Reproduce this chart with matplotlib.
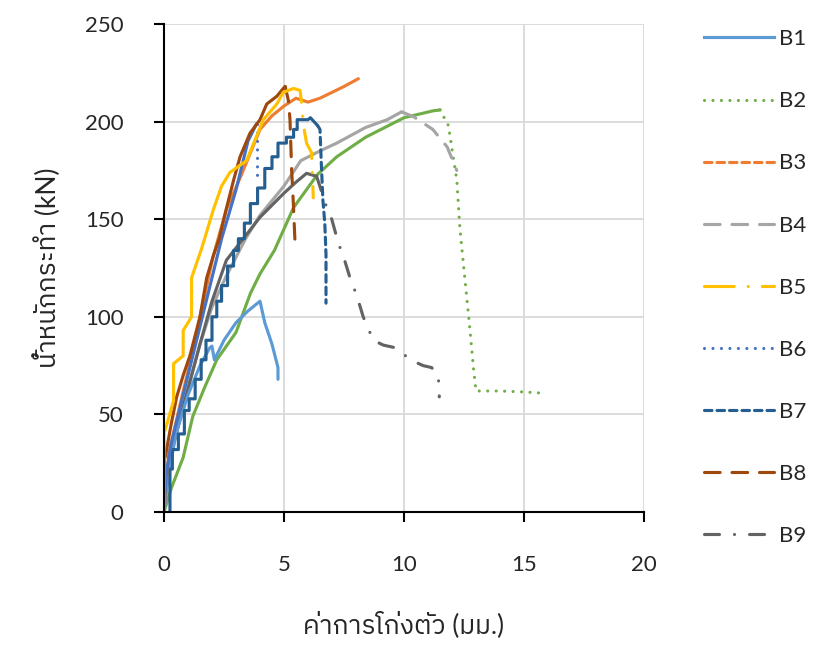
import matplotlib
matplotlib.use("Agg")
import matplotlib.pyplot as plt
from matplotlib.lines import Line2D

plt.rcParams["font.family"] = ["Lato", "IBM Plex Sans Thai", "DejaVu Sans"]

labels = ["B1", "B2", "B3", "B4", "B5", "B6", "B7", "B8", "B9"]

# deflection (mm), load (kN)
b1_x = [0, 0.2, 0.5, 1.0, 1.5, 1.9, 2.0, 2.1, 2.5, 3.0, 3.5, 3.8, 4.0, 4.2, 4.5, 4.75, 4.75]
b1_y = [0, 20, 40, 60, 75, 84, 85, 78, 88, 97, 103, 106, 108, 97, 86, 74, 68]

b2_x = [0, 0.3, 0.8, 1.2, 1.7, 2.2, 3.0, 3.6, 4.0, 4.6, 5.4, 6.4, 7.2, 8.4, 10.0, 11.2, 11.5,
        11.85, 12.05, 12.2, 12.33, 12.54, 12.75, 12.9, 13.0, 14.0, 15.0, 15.65, 15.65]
b2_y = [0, 12, 28, 49, 64, 78, 92, 112, 122, 134, 156, 173, 182, 192, 202, 205.5, 206,
        198, 182, 170, 145, 119, 93, 73, 62, 62, 61.5, 61, 59]

b3_x = [0, 0.1, 0.2, 0.5, 0.8, 1.2, 1.5, 2.05, 2.6, 3.2, 4.0, 4.5, 5.0, 5.5, 6.0, 6.5, 7.0, 7.5, 8.1]
b3_y = [0, 15, 30, 46, 62, 82, 100, 131, 155, 172, 196, 203, 208, 212, 210, 212, 215, 218, 222]

b4_x = [0, 0.1, 0.3, 0.8, 1.5, 2.0, 2.6, 3.4, 4.0, 5.0, 5.7, 6.5, 7.2, 8.4, 9.3, 9.9,
        10.4, 11.2, 11.8, 12.2]
b4_y = [0, 15, 30, 54, 86, 105, 121, 140, 152, 167, 180, 185, 189, 197, 201, 205,
        202.5, 196, 187, 175]

b5_x = [0, 0, 0.05, 0.4, 0.4, 0.8, 0.8, 1.15, 1.15, 1.57, 2.06, 2.4, 2.75, 3.44, 4.14, 4.7, 4.97,
        5.4, 5.67, 5.74, 5.8, 5.94, 6.15, 6.22]
b5_y = [0, 42, 42, 57, 76, 80, 93, 100, 120, 135, 155, 167, 174, 180, 201, 209, 215,
        217, 216, 209, 199, 189, 184, 161]

b6_x = [0, 0.1, 0.3, 0.7, 1.2, 1.8, 2.4, 3.0, 3.5, 3.86, 3.86, 3.86]
b6_y = [0, 20, 35, 55, 80, 110, 140, 165, 190, 199, 185, 171]

b7_x = [0.25, 0.25, 0.35, 0.35, 0.6, 0.6, 0.85, 0.85, 1.05, 1.05, 1.3, 1.3, 1.55, 1.55, 1.75, 1.75,
        2.0, 2.0, 2.2, 2.2, 2.4, 2.4, 2.65, 2.65, 2.9, 2.9, 3.1, 3.1, 3.35, 3.35, 3.6, 3.6,
        3.9, 3.9, 4.2, 4.2, 4.5, 4.5, 4.75, 4.75, 5.1, 5.1, 5.4, 5.4, 5.55, 5.55, 6.0, 6.1,
        6.4, 6.5, 6.55, 6.62, 6.7, 6.75, 6.75]
b7_y = [0, 22, 22, 32, 32, 40, 40, 52, 52, 58, 58, 68, 68, 78, 78, 88,
        88, 100, 100, 108, 108, 116, 116, 126, 126, 134, 134, 140, 140, 148, 148, 158,
        158, 166, 166, 176, 176, 182, 182, 189, 189, 192, 192, 196, 196, 201, 201, 202,
        198, 196, 180, 160, 148, 132, 107]

b8_x = [0, 0.02, 0.05, 0.3, 0.53, 0.8, 1.08, 1.5, 1.78, 2.05, 2.3, 2.61, 2.9, 3.17, 3.58, 4.0,
        4.28, 4.7, 4.97, 5.05, 5.18, 5.25, 5.32, 5.39, 5.46]
b8_y = [0, 28, 28, 45, 59, 70, 80, 100, 120, 131, 140, 156, 170, 182, 194, 201,
        209, 213, 217, 218, 211, 201, 175, 158, 138]

b9_x = [0, 0.05, 0.3, 0.8, 1.5, 2.0, 2.6, 3.3, 4.0, 4.97, 5.5, 5.94, 6.36, 6.78, 6.99, 7.26,
        7.5, 7.75, 8.03, 8.3, 8.58, 8.72, 9.14, 9.7, 10.25, 10.8, 11.15, 11.43, 11.47]
b9_y = [0, 11, 30, 54, 86, 108, 129, 140, 151, 163, 169, 173.5, 172, 156, 150, 138,
        130, 120, 111, 100, 92, 88, 85.5, 84, 78, 75, 74, 70, 59]

series = [(b1_x, b1_y), (b2_x, b2_y), (b3_x, b3_y), (b4_x, b4_y), (b5_x, b5_y),
          (b6_x, b6_y), (b7_x, b7_y), (b8_x, b8_y), (b9_x, b9_y)]

colors = ["#5B9BD5", "#70AD47", "#ED7D31", "#A5A5A5", "#FFC000",
          "#4472C4", "#255E91", "#9E480E", "#636363"]
styles = ["-", (0, (0.01, 2.7)), (0, (2.4, 1.6)), (0, (5.0, 3.8)), (0, (9.5, 4.5, 0.01, 4.5)),
          (0, (0.01, 2.7)), (0, (2.4, 1.6)), (0, (5.0, 3.8)), (0, (4.8, 4.8, 0.01, 4.8))]
# dense data looks solid in the original; the pattern shows from this index on
split = [len(b1_x), 16, len(b3_x), 15, 16, 9, 48, 19, 12]
LW = 2.25

fig = plt.figure(figsize=(8.17, 6.46), dpi=100)
ax = fig.add_axes([0.2007, 0.2074, 0.5876, 0.7554])

draw_order = [1, 3, 8, 0, 2, 6, 5, 7, 4]
for i in draw_order:
    x, y = series[i]
    s = split[i]
    ax.plot(x[:s + 1], y[:s + 1], color=colors[i], lw=LW, solid_capstyle="round",
            solid_joinstyle="round")
    if s < len(x) - 1:
        ax.plot(x[s:], y[s:], color=colors[i], lw=LW, linestyle=styles[i],
                dash_capstyle="round")

ax.set_xlim(0, 20)
ax.set_ylim(0, 250)
ax.set_xticks([0, 5, 10, 15, 20])
ax.set_yticks([0, 50, 100, 150, 200, 250])
ax.grid(True, color="#D9D9D9", lw=1.3)
ax.set_axisbelow(True)
for side in ["top", "right"]:
    ax.spines[side].set_visible(False)
for side in ["left", "bottom"]:
    ax.spines[side].set_linewidth(1.5)
    ax.spines[side].set_color("black")
ax.tick_params(axis="both", direction="out", length=7, width=1.5, labelsize=16,
               colors="black", labelcolor="#262626")
ax.tick_params(axis="y", pad=22)
ax.tick_params(axis="x", pad=24)

ax.set_xlabel("ค่าการโก่งตัว (มม.)", fontsize=19, color="#262626", labelpad=26)
ax.set_ylabel("น้ำหนักกระทำ (kN)", fontsize=19, color="#262626", labelpad=17)

handles = [Line2D([], [], color=c, lw=LW, linestyle=ls, dash_capstyle="round")
           for c, ls in zip(colors, styles)]
fig.legend(handles, labels, loc="upper left", bbox_to_anchor=(0.848, 0.972),
           frameon=False, fontsize=16, handlelength=3.15, labelspacing=1.895,
           handletextpad=0.25, borderpad=0, labelcolor="#262626")

fig.savefig("out.png", dpi=100)
